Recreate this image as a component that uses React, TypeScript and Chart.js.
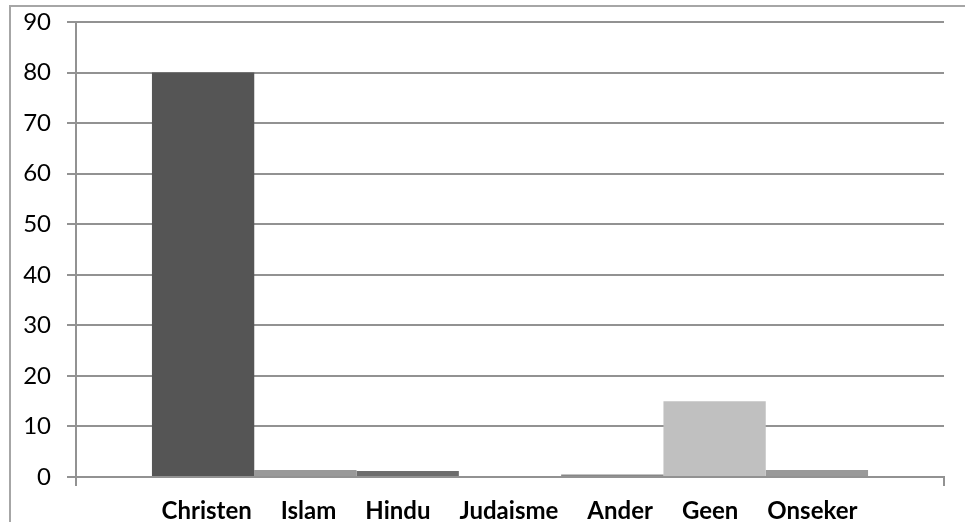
import React, { useEffect, useRef } from "react";
import { Chart, registerables } from "chart.js";

Chart.register(...registerables);

const categories = ["Christen", "Islam", "Hindu", "Judaisme", "Ander", "Geen", "Onseker"];
const values = [80, 1.4, 1.2, 0.2, 0.5, 15, 1.4];
const yTicks = [0, 10, 20, 30, 40, 50, 60, 70, 80, 90];

const barColors = ["#555555", "#999999", "#6d6d6d", "#cccccc", "#878787", "#c0c0c0", "#999999"];

const GRID = "#929292";
const FONT = "Lato, 'Open Sans', sans-serif";
const LEGEND_FONT = 24;
const LEGEND_PAD = 17;
const CANVAS_H = 533;

// Centre the legend text under the plot area (legend box is otherwise centred on the whole canvas)
const legendShift = {
  id: "legendShift",
  afterLayout(chart: any) {
    if (chart.legend) {
      chart.legend.left = chart.chartArea.left - 13;
    }
  },
};

export default function App() {
  const ref = useRef<HTMLCanvasElement | null>(null);

  useEffect(() => {
    if (!ref.current) return;
    const chart = new Chart(ref.current, {
      type: "bar",
      data: {
        labels: [""],
        datasets: categories.map((c, i) => ({
          label: c,
          data: [values[i]],
          backgroundColor: barColors[i],
          borderWidth: 0,
          categoryPercentage: 0.825,
          barPercentage: 1.0,
        })),
      },
      plugins: [legendShift],
      options: {
        animation: false,
        responsive: false,
        maintainAspectRatio: false,
        layout: { padding: { top: 22, right: 21, left: 0, bottom: 0 } },
        plugins: {
          tooltip: { enabled: false },
          title: { display: false },
          legend: {
            display: true,
            position: "bottom",
            labels: {
              boxWidth: 0,
              padding: LEGEND_PAD,
              color: "#000000",
              font: { family: FONT, size: LEGEND_FONT, weight: "bold" },
              generateLabels: (ch: any) =>
                ch.data.datasets.map((d: any, i: number) => ({
                  text: d.label,
                  fillStyle: "rgba(0,0,0,0)",
                  strokeStyle: "rgba(0,0,0,0)",
                  lineWidth: 0,
                  hidden: false,
                  datasetIndex: i,
                  fontColor: "#000000",
                })),
            },
          },
        },
        scales: {
          x: {
            type: "category",
            offset: true,
            grid: {
              display: true,
              offset: true,
              drawOnChartArea: false,
              drawTicks: true,
              tickLength: 9,
              color: GRID,
              lineWidth: 2,
            },
            border: { display: true, color: GRID, width: 2 },
            ticks: { display: false },
            afterFit: (s: any) => {
              s.height = CANVAS_H - 477 - (LEGEND_FONT + LEGEND_PAD + 10);
            },
          },
          y: {
            min: 0,
            max: 90,
            afterBuildTicks: (s: any) => {
              s.ticks = yTicks.map((v) => ({ value: v }));
            },
            grid: {
              color: GRID,
              lineWidth: 2,
              drawTicks: true,
              tickLength: 9,
            },
            border: { display: true, color: GRID, width: 2 },
            ticks: {
              color: "#000000",
              padding: 16,
              font: { family: FONT, size: 24 },
            },
            afterFit: (s: any) => {
              s.width = 76;
              s.paddingTop = 0;
              s.paddingBottom = 0;
            },
          },
        },
      },
    });
    return () => chart.destroy();
  }, []);

  return (
    <div
      style={{
        position: "fixed",
        left: 0,
        top: 0,
        width: 965,
        height: 522,
        overflow: "hidden",
        background: "#ffffff",
      }}
    >
      <canvas ref={ref} width={965} height={CANVAS_H} style={{ display: "block", width: 965, height: CANVAS_H }} />
      <div
        style={{
          position: "absolute",
          left: 9,
          top: 5,
          width: 1000,
          height: 600,
          borderLeft: "2px solid #a6a6a6",
          borderTop: "2px solid #a6a6a6",
          pointerEvents: "none",
        }}
      />
    </div>
  );
}
